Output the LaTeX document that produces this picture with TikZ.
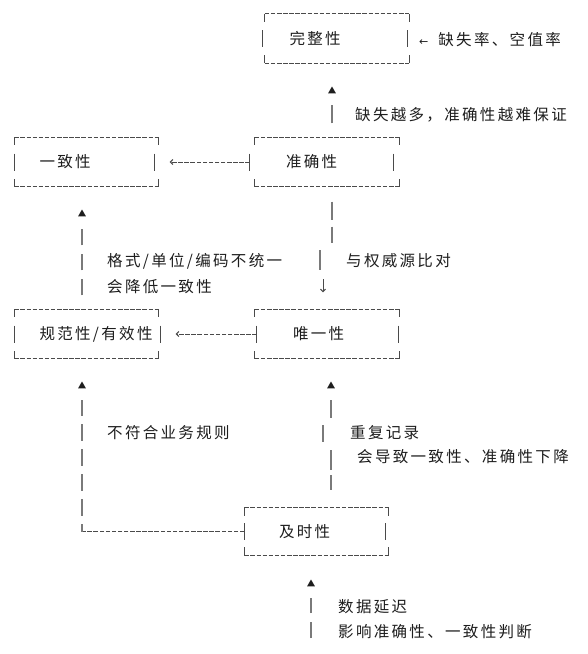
\documentclass[tikz,border=0pt]{standalone}
\usepackage{fontspec}
\setmainfont{Noto Sans CJK SC}[LetterSpace=15]
\newfontfamily\symf{DejaVu Sans}
\usetikzlibrary{calc,arrows.meta,shapes.geometric}
\definecolor{tx}{HTML}{1E1E1E}
\definecolor{ln}{HTML}{4A4A4A}
\definecolor{vbc}{HTML}{7A7A7A}
\newcommand\asciiframe[3]{%
  \draw[hd] (#1.north west) -- (#1.north east);
  \draw[hd] (#1.south west) -- (#1.south east);
  \draw[tk] (#1.north west) -- ++(0,8) (#1.north east) -- ++(0,8)
            (#1.south west) -- ++(0,-8) (#1.south east) -- ++(0,-8);
  \draw[tk] ($(#1.west)+(#2,-8.5)$) -- ++(0,17) ($(#1.east)+(#3,-8.5)$) -- ++(0,17);
}
\begin{document}
\begin{tikzpicture}[x=1pt,y=-1pt,
  every node/.style={text=tx, font=\fontsize{15.5}{26}\selectfont},
  bx/.style 2 args={rectangle, minimum width=144pt, minimum height=49pt, inner ysep=0pt,
                    inner xsep=#1, text width=#2, align=left},
  lb/.style={anchor=west, inner sep=0pt, align=left},
  hd/.style={draw=ln, line width=1pt, dash pattern=on 4.5pt off 1.6pt},
  tk/.style={draw=ln, line width=1pt},
  vb/.style={draw=vbc, line width=1.1pt},
  ar/.style={hd, -{Straight Barb[length=2.5pt,width=5pt]}},
  tri/.style={regular polygon, regular polygon sides=3, fill=tx, draw=none,
              inner sep=0pt, minimum size=9pt}]
\fill[white] (0,0) rectangle (587,654);
\useasboundingbox (0,0) rectangle (587,654);

% boxes
\node[bx={24.5pt}{95pt}] (wz) at (337,38.5) {完整性};
\node[bx={31pt}{82pt}] (zq) at (327,162) {准确性};
\node[bx={25pt}{94pt}] (yz) at (86.5,162) {一致性};
\node[bx={25pt}{94pt}] (gf) at (86.5,334) {规范性/有效性};
\node[bx={38pt}{68pt}] (wy) at (327,334) {唯一性};
\node[bx={34pt}{75pt}, minimum height=47pt] (js) at (316.5,531.5) {及时性};

\asciiframe{wz}{-2}{-2}
\asciiframe{zq}{-5}{-6}
\asciiframe{yz}{0}{-4}
\asciiframe{gf}{0}{2}
\asciiframe{wy}{2}{-1}
\asciiframe{js}{0}{-3}

% labels
\node[lb] (l1) at (419,40) {{\symf\fontsize{11}{11}\selectfont ←}\hspace{10pt}缺失率、空值率};
\node[lb] (l2) at (355,115) {缺失越多，准确性越难保证};
\node[lb] (l3) at (107,274) {格式/单位/编码不统一\\会降低一致性};
\node[lb] (l4) at (346,261) {与权威源比对};
\node[lb] (l5) at (107,433) {不符合业务规则};
\node[lb, font=\fontsize{15.5}{24}\selectfont] (l6) at (350,445) {重复记录\\\hspace*{7pt}会导致一致性、准确性下降};
\node[lb, font=\fontsize{15.5}{25}\selectfont] (l7) at (338,619.5) {数据延迟\\影响准确性、一致性判断};

% C1: accuracy -> completeness
\node[tri] (t1) at (332,91) {};
\draw[vb, dash pattern=on 18pt off 40pt, shorten <=14pt] (zq.north -| t1) -- (t1.south);

% C7: accuracy -> consistency
\draw[ar, shorten <=5pt, shorten >=11pt] (zq.west) -- (yz.east);

% C2: accuracy -> uniqueness
\coordinate (c2a) at (332,0);
\coordinate (c2o) at (320,250);
\coordinate (c2b) at (323,279);
\draw[vb] ($(zq.south -| c2a)+(0,15)$) -- ++(0,18) ++(0,7) -- ++(0,16) (c2o) -- ++(0,20);
\draw[tk, -{Straight Barb[length=2.5pt,width=5pt]}, shorten >=17pt] (c2b) -- (wy.north -| c2b);

% C3: validity -> consistency
\node[tri] (t3) at (82,214) {};
\draw[vb, dash pattern=on 16pt off 9pt, shorten <=14pt, shorten >=13pt] (gf.north -| t3) -- (t3.south);

% C8: uniqueness -> validity
\draw[ar, shorten <=-2pt, shorten >=17pt] (wy.west) -- (gf.east);

% C4: timeliness -> validity
\node[tri] (t4) at (82,386) {};
\draw[hd] (js.west) -- (js.west -| t4);
\draw[vb, dash pattern=on 17pt off 8pt, dash phase=9pt, shorten >=12pt] (js.west -| t4) -- (t4.south);

% C5: timeliness -> uniqueness
\node[tri] (t5) at (331,386) {};
\draw[vb] ($(js.north -| t5)+(0,-18)$) -- ++(0,-15) ++(0,-5) -- ++(0,-20)
          ++(-8,-8) -- ++(0,-17) ++(8,-7) -- ($(t5.south)+(0,12)$);

% C6: delay -> timeliness
\node[tri] (t6) at (311,584) {};
\coordinate (c6) at (311,638);
\draw[vb, dash pattern=on 16pt off 9pt, shorten >=12pt] (c6) -- (t6.south);
\end{tikzpicture}
\end{document}
